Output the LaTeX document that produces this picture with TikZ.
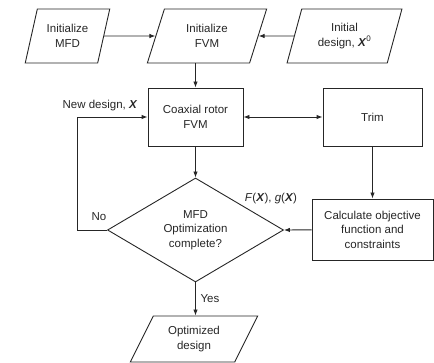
\documentclass[tikz,border=0pt]{standalone}
\usepackage{fontspec}
\setmainfont{Liberation Sans}
\usetikzlibrary{shapes.geometric,arrows.meta}
\begin{document}
\begin{tikzpicture}[x=1pt,y=-1pt,
  every node/.style={font=\fontsize{11.5}{14.5}\selectfont, align=center, text=black!85},
  line/.style={draw=black!85, line width=0.9pt},
  arr/.style={line, -{Latex[length=6pt,width=4.5pt]}},
  para/.style={line, trapezium, trapezium left angle=70, trapezium right angle=110,
    trapezium stretches=true, inner sep=0pt, minimum height=54pt},
  boxx/.style={line, rectangle, inner sep=0pt},
  lab/.style={inner sep=1pt}]
\useasboundingbox (0,0) rectangle (434,363);
\node[para, minimum width=85pt] (mfd) at (67.5,36) {Initialize\\MFD};
\node[para, minimum width=120pt] (fvm) at (207,36) {Initialize\\FVM};
\node[para, minimum width=115pt] (init) at (344.5,36) {Initial\\design, \textbf{\textit{X}}\textsuperscript{0}};
\node[boxx, minimum width=95pt, minimum height=58pt] (coax) at (195.5,117) {Coaxial rotor\\FVM};
\node[boxx, minimum width=99pt, minimum height=58pt] (trim) at (372.5,117) {Trim};
\node[boxx, minimum width=121pt, minimum height=61pt] (calc) at (372.5,229.5) {Calculate objective\\function and\\constraints};
\node[line, diamond, inner sep=0pt, aspect=1.7, minimum width=176pt, minimum height=104pt] (diam) at (195.5,230) {MFD\\Optimization\\complete?};
\node[para, trapezium left angle=60, trapezium right angle=120, minimum width=128pt, minimum height=46pt] (opt) at (194,339) {Optimized\\design};
\coordinate (loop) at (77,230);
\draw[arr] (mfd) -- (fvm);
\draw[arr] (init) -- (fvm);
\draw[arr] (fvm.south -| coax.north) -- (coax.north);
\draw[arr, {Latex[length=6pt,width=4.5pt]}-{Latex[length=6pt,width=4.5pt]}] (coax) -- (trim);
\draw[arr] (coax) -- (diam.north);
\draw[arr] (trim) -- (calc);
\draw[arr] (calc) -- (diam.east);
\draw[arr] (diam.west) -- (loop) |- (coax.west);
\draw[arr] (diam.south) -- (diam.south |- opt.north);
\node[lab] (nd) at (100,106) {New design, \textbf{\textit{X}}};
\node[lab] (no) at (99,217) {No};
\node[lab] (fg) at (271,199) {\textit{F}(\textbf{\textit{X}}), \textit{g}(\textbf{\textit{X}})};
\node[lab] (yes) at (210,299) {Yes};
\end{tikzpicture}
\end{document}
